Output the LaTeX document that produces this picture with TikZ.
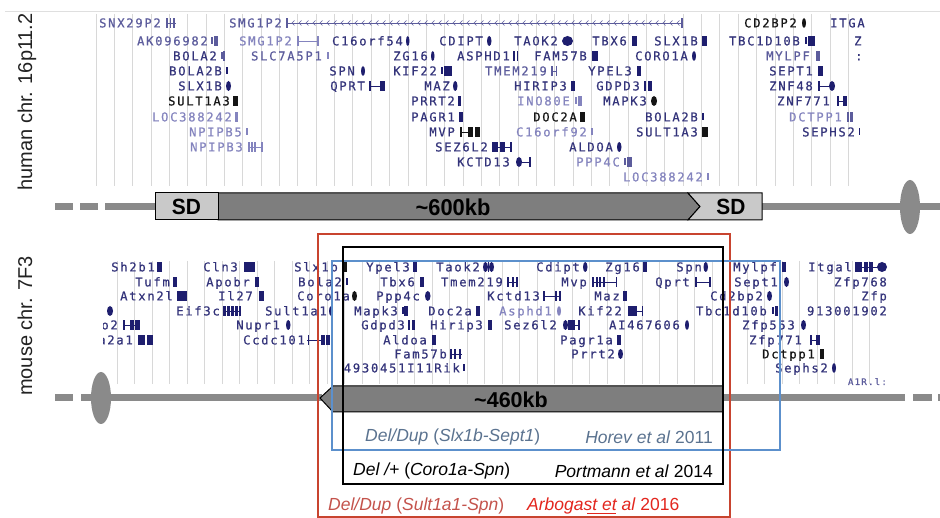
\documentclass[tikz,border=0pt]{standalone}
\usepackage{fontspec}
\setmainfont{Liberation Sans}
\newfontfamily\gf{DejaVu Sans Mono}[LetterSpace=14,FakeBold=0.6]
\definecolor{gdark}{HTML}{33337A}
\definecolor{gmid}{HTML}{5C5C9C}
\definecolor{glight}{HTML}{8484BE}
\definecolor{gblk}{HTML}{151515}
\definecolor{gexon}{HTML}{1E1E6E}
\definecolor{gridc}{HTML}{D8D8D8}
\definecolor{chrom}{HTML}{8A8A8A}
\definecolor{arrowfill}{HTML}{7E7E7E}
\definecolor{sdfill}{HTML}{C9C9C9}
\definecolor{redbox}{HTML}{C8442F}
\definecolor{bluebox}{HTML}{5C90CC}
\definecolor{bluetext}{HTML}{5B7390}
\definecolor{redtext}{HTML}{C4534C}
\definecolor{redref}{HTML}{E3261E}
\definecolor{labc}{HTML}{222222}
\newcounter{gnc}
\newcommand\gnT[4]{\stepcounter{gnc}\node[gtext,text=#4] (g\arabic{gnc}) at (#1,#2+4.4) {#3};}
\newcommand\gnB[4][gexon]{\fill[#1] (#2,#4-5) rectangle ++(#3,10);}
\newcommand\gnU[4][gexon]{\fill[#1] (#2,#4-3.5) rectangle ++(#3,7);}
\newcommand\gnL[4][gexon]{\draw[#1,line width=0.9pt] (#2,#4) -- (#3,#4);}
\newcommand\gnO[4][gexon]{\fill[#1] (#2+#3/2,#4) ellipse [x radius=#3*0.5pt, y radius=5pt];}
\begin{document}
\begin{tikzpicture}[x=1pt,y=-1pt,
  gtext/.style={font=\gf\fontsize{12.2}{12.2}\selectfont, inner sep=0pt, anchor=base east},
  biglab/.style={font=\fontsize{20}{20}\selectfont, text=labc, rotate=90, anchor=base, inner sep=0pt},
  reflab/.style={font=\fontsize{17.5}{17.5}\selectfont, inner sep=0pt},
  chromline/.style={chrom, line width=7pt},
  boxtxt/.style={font=\bfseries\fontsize{22}{22}\selectfont, xscale=0.95, inner sep=0pt}]
\useasboundingbox (0,0) rectangle (940,518);
\fill[white] (0,0) rectangle (940,518);
\draw[gray!25, line width=0.8pt] (5,11) -- (940,11);
% grids
\foreach \k in {0,...,41} \draw[gridc, line width=0.9pt] ({96+18.35*\k},14) -- ({96+18.35*\k},186);
\foreach \k in {0,...,43} \draw[gridc, line width=0.9pt] ({117+17.5*\k},261) -- ({117+17.5*\k},384);
% ---------------- human genes
% R0
\gnT{161}{23}{SNX29P2}{gmid} \gnB[gmid]{166}{1.6}{23}\gnB[gmid]{169.5}{1.6}{23}\gnB[gmid]{173}{1.6}{23}\gnL[gmid]{166}{176}{23}
\gnT{282}{23}{SMG1P2}{gmid} \gnB[gmid]{286}{2}{23}\gnL[gmid]{286}{683}{23}\gnB[gmid]{681}{1.6}{23}
\foreach \cx in {292,299,...,677} {\draw[gmid,line width=0.6pt] (\cx+2.5,20.5) -- (\cx,23) -- (\cx+2.5,25.5);}
\gnT{797}{23}{CD2BP2}{gblk} \gnO[gblk]{802}{4}{23}
\begin{scope}\clip (800,10) rectangle (866,35); \node[gtext,anchor=base west,text=gdark] (itgal) at (830,27.4) {ITGAL}; \end{scope}
% R1
\gnT{208}{41}{AK096982}{gmid} \gnU[gmid]{211}{1.5}{41}\gnB[gmid]{213.5}{4.5}{41}
\gnT{292}{41}{SMG1P2}{glight} \gnB[glight]{297}{1.5}{41}\gnL[glight]{297}{318}{41}\gnB[glight]{317}{1.5}{41}
\gnT{403}{41}{C16orf54}{gdark} \gnO{406}{3.5}{41}
\gnT{483}{41}{CDIPT}{gdark} \gnO{487}{4.5}{41}
\gnT{558}{41}{TAOK2}{gdark} \gnO{562}{11}{41}
\gnT{627}{41}{TBX6}{gdark} \gnB{632}{5}{41}
\gnT{698}{41}{SLX1B}{gdark} \gnB{702}{5}{41}
\gnT{800}{41}{TBC1D10B}{gdark} \gnU{805}{2}{41}\gnB{808}{7}{41}
\node[gtext,anchor=base west,text=gdark] (zcut) at (854,45.4) {Z};
% R2
\gnT{217}{56}{BOLA2}{gdark} \gnU[gmid]{221}{2}{56}\gnB[gmid]{223}{2}{56}
\gnT{322}{56}{SLC7A5P1}{gmid} \gnU[glight]{327}{2}{56}
\gnT{428}{56}{ZG16}{gdark} \gnO{431}{3.5}{56}
\gnT{510}{56}{ASPHD1}{gdark} \gnB{513}{1.8}{56}\gnB{516.5}{1.8}{56}
\gnT{587}{56}{FAM57B}{gdark} \gnB{592}{6}{56}
\gnT{688}{56}{CORO1A}{gdark} \gnO{692}{4}{56}
\gnT{810}{56}{MYLPF}{gmid} \gnB[gmid]{816}{4}{56}
\node[gtext,anchor=base west,text=gdark] (colcut) at (855,60.4) {:};
% R3
\gnT{222}{71}{BOLA2B}{gdark} \gnU{226}{2}{71}
\gnT{355}{71}{SPN}{gdark} \gnO{361}{4}{71}
\gnT{437}{71}{KIF22}{gdark} \gnU{441}{1.5}{71}\gnB{443.5}{8}{71}
\gnT{547}{71}{TMEM219}{gmid} \gnB[gmid]{551}{1.8}{71}\gnB[gmid]{555.5}{1.8}{71}\gnL[gmid]{551}{557}{71}
\gnT{632}{71}{YPEL3}{gdark} \gnB{637}{3.5}{71}
\gnT{813}{71}{SEPT1}{gdark} \gnB{818}{4.5}{71}
% R4
\gnT{222}{86}{SLX1B}{gdark} \gnO{226}{5}{86}
\gnT{365}{86}{QPRT}{gdark} \gnB{369}{1.5}{86}\gnL{369}{383}{86}\gnB{380}{5}{86}
\gnT{450}{86}{MAZ}{gdark} \gnO{453}{4.5}{86}
\gnT{567}{86}{HIRIP3}{gdark} \gnB{571}{4}{86}
\gnT{640}{86}{GDPD3}{gdark} \gnB{644}{2}{86}\gnB{647.5}{4.5}{86}
\gnT{813}{86}{ZNF48}{gdark} \gnB{818}{1.5}{86}\gnL{818}{830}{86}\gnO{829}{6}{86}
% R5
\gnT{230}{101}{SULT1A3}{gblk} \gnB[gblk]{233}{5}{101}
\gnT{455}{101}{PRRT2}{gdark} \gnB{457.5}{3.5}{101}
\gnT{570}{101}{INO80E}{glight} \gnU[glight]{575}{2}{101}\gnB[glight]{578}{4}{101}
\gnT{647}{101}{MAPK3}{gdark} \gnO[gblk]{651}{6}{101}
\gnT{830}{101}{ZNF771}{gdark} \gnB{837}{1.5}{101}\gnL{837}{846}{101}\gnB{843}{4}{101}
% R6
\gnT{232}{117}{LOC388242}{glight} \gnB[glight]{235}{3}{117}
\gnT{455}{117}{PAGR1}{gdark} \gnB{459}{3.5}{117}
\gnT{577}{117}{DOC2A}{gblk} \gnB[gblk]{580}{5}{117}
\gnT{698}{117}{BOLA2B}{gdark} \gnU{702}{2}{117}
\gnT{842}{117}{DCTPP1}{glight} \gnB[gmid]{847}{1.8}{117}\gnB[gmid]{850}{3}{117}
% R7
\gnT{242}{132}{NPIPB5}{glight} \gnU[glight]{246}{2}{132}
\gnT{455}{132}{MVP}{gdark} \gnB[gblk]{460}{1.5}{132}\gnL[gblk]{460}{470}{132}\gnB[gblk]{468}{5}{132}\gnB[gblk]{474.5}{5}{132}
\gnT{587}{132}{C16orf92}{glight} \gnU[glight]{591}{2}{132}
\gnT{698}{132}{SULT1A3}{gdark} \gnB[gblk]{702}{6}{132}
\gnT{855}{132}{SEPHS2}{gdark} \gnU{858.5}{1.5}{132}
% R8
\gnT{243}{147}{NPIPB3}{glight} \gnB[glight]{248}{1.5}{147}\gnB[glight]{251}{1.5}{147}\gnB[glight]{254}{1.5}{147}\gnL[glight]{248}{262}{147}\gnB[glight]{261}{1.5}{147}
\gnT{488}{147}{SEZ6L2}{gdark} \gnB{492}{6}{147}\gnB{500}{5}{147}\gnL{492}{512}{147}\gnB{510}{1.8}{147}
\gnT{613}{147}{ALDOA}{gdark} \gnO{617}{4.5}{147}
% R9
\gnT{510}{162}{KCTD13}{gdark} \gnO{516}{6}{162}\gnL{516}{531}{162}\gnB{529}{2}{162}
\gnT{620}{162}{PPP4C}{glight} \gnU[gmid]{624}{1.8}{162}\gnB[gmid]{627}{4.5}{162}
% R10
\gnT{703}{177}{LOC388242}{glight} \gnU[glight]{707}{2}{177}
% ---------------- mouse genes
% M0
\gnT{155}{267}{Sh2b1}{gdark} \gnB{157}{5}{267}
\gnT{238}{267}{Cln3}{gdark} \gnB{244}{11}{267}
\gnT{338}{267}{Slx1b}{gdark} \gnB[gblk]{342}{5}{267}
\gnT{410}{267}{Ypel3}{gdark} \gnB{413}{3.5}{267}
\gnT{480}{267}{Taok2}{gdark} \gnO{483}{5}{267}\gnB{487.5}{1.5}{267}\gnO{489}{5}{267}
\gnT{580}{267}{Cdipt}{gdark} \gnO{583}{4.5}{267}
\gnT{640}{267}{Zg16}{gdark} \gnB{643}{3.5}{267}
\gnT{702}{267}{Spn}{gdark} \gnO{703.5}{4.5}{267}
\gnT{777}{267}{Mylpf}{gdark} \gnB{782}{3.5}{267}
\gnT{852}{267}{Itgal}{gdark} \gnB{855}{7}{267}\gnB{863.5}{4}{267}\gnB{869}{4}{267}\gnL{855}{880}{267}\gnO{877}{10}{267}
% M1
\gnT{170}{282}{Tufm}{gdark} \gnB{173}{3.5}{282}
\gnT{250}{282}{Apobr}{gdark} \gnB{255}{3.5}{282}
\gnT{342}{282}{Bola2}{gdark} \gnU{346}{2}{282}
\gnT{415}{282}{Tbx6}{gdark} \gnB{420}{3.5}{282}
\gnT{503}{282}{Tmem219}{gdark} \gnB{507}{2}{282}\gnL{507}{517}{282}\gnB{512}{2}{282}\gnB{516}{1.5}{282}
\gnT{587}{282}{Mvp}{gdark} \gnB{592}{2}{282}\gnB{595.5}{2}{282}\gnB{599}{2}{282}\gnB{602.5}{2}{282}\gnL{592}{617}{282}\gnB{615.5}{1.5}{282}
\gnT{690}{282}{Qprt}{gdark} \gnB{695}{1.5}{282}\gnL{695}{710}{282}\gnB{709}{1.5}{282}
\gnT{778}{282}{Sept1}{gdark} \gnO{784}{5}{282}
\gnT{887}{282}{Zfp768}{gdark}
% M2
\gnT{173}{296}{Atxn2l}{gdark} \gnB{177}{10}{296}
\gnT{253}{296}{Il27}{gdark} \gnB{259}{5}{296}
\gnT{350}{296}{Coro1a}{gdark} \gnO[gblk]{352}{5}{296}
\gnT{420}{296}{Ppp4c}{gdark} \gnO{425}{5.5}{296}
\gnT{540}{296}{Kctd13}{gdark} \gnB{543}{2}{296}\gnL{543}{560}{296}\gnB{555}{2}{296}\gnB{558.5}{2}{296}
\gnT{620}{296}{Maz}{gdark} \gnB{623}{4}{296}
\gnT{763}{296}{Cd2bp2}{gdark} \gnO{767}{5}{296}
\gnT{887}{296}{Zfp}{gdark}
% M3
\gnO{107}{6}{311}
\gnT{220}{311}{Eif3c}{gdark} \gnB{223}{2.5}{311}\gnB{227}{2.5}{311}\gnB{231}{2.5}{311}\gnB{235}{2.5}{311}\gnL{223}{240}{311}\gnB{238.5}{2}{311}
\gnT{327}{311}{Sult1a1}{gdark} \gnO{329}{4}{311}
\gnT{398}{311}{Mapk3}{gdark} \gnU{402}{1.5}{311}\gnB{404}{3.5}{311}
\gnT{472}{311}{Doc2a}{gdark} \gnB{476}{4}{311}
\gnT{552}{311}{Asphd1}{glight} \gnO[glight]{557}{4}{311}
\gnT{622}{311}{Kif22}{gdark} \gnB{628}{9}{311}\gnL{628}{643}{311}\gnB{641.5}{1.5}{311}
\gnT{767}{311}{Tbc1d10b}{gdark} \gnU{772}{1.5}{311}\gnB{774.5}{3.5}{311}
\gnT{887}{311}{913001902}{gdark}
% M4
\begin{scope}\clip (103,300) rectangle (200,350);
\gnT{118}{325}{o2}{gdark}
\gnT{133}{340}{a2a1}{gdark}
\end{scope}
\gnB{123}{1.5}{325}\gnL{123}{140}{325}\gnB{130}{4}{325}\gnB{135}{5}{325}
\gnT{280}{325}{Nupr1}{gdark} \gnO{286}{4.5}{325}
\gnT{405}{325}{Gdpd3}{gdark} \gnB{408}{2}{325}\gnB{411.5}{3.5}{325}
\gnT{483}{325}{Hirip3}{gdark} \gnB{488}{4}{325}
\gnT{557}{325}{Sez6l2}{gdark} \gnO{563}{5}{325}\gnB{568}{7}{325}\gnL{563}{580}{325}\gnB{578}{2}{325}
\gnT{680}{325}{AI467606}{gdark} \gnO{685}{4}{325}
\gnT{795}{325}{Zfp553}{gdark} \gnO{801}{5}{325}
% M5
\gnB{138}{7}{340}\gnB{146.5}{6}{340}
\gnT{305}{340}{Ccdc101}{gdark} \gnB{307.5}{1.5}{340}\gnL{307}{322}{340}\gnB{321}{4}{340}\gnB{326}{4}{340}
\gnT{427}{340}{Aldoa}{gdark} \gnB{432}{3.5}{340}
\gnT{613}{340}{Pagr1a}{gdark} \gnB{617}{3.5}{340}
\gnT{802}{340}{Zfp771}{gdark} \gnB{810}{1.5}{340}\gnL{810}{820}{340}\gnB{816}{4}{340}
% M6
\gnT{447}{354}{Fam57b}{gdark} \gnB{450}{2}{354}\gnB{454}{2}{354}\gnL{450}{462}{354}\gnB{459}{2}{354}
\gnT{615}{354}{Prrt2}{gdark} \gnO{618}{5}{354}
\gnT{815}{354}{Dctpp1}{gblk} \gnB[gblk]{820}{4}{354}
% M7
\gnT{460}{368}{4930451I11Rik}{gdark} \gnU{463}{2}{368}
\gnT{828}{368}{Sephs2}{gdark} \gnO{832}{4}{368}
% M8
\node[gtext, font=\gf\fontsize{9}{9}\selectfont, text=gmid] (a1r) at (887,385) {A1R.l:};
% ---------------- human chromosome
\draw[chromline] (55,207) -- (73,207);
\draw[chromline] (80,207) -- (98,207);
\draw[chromline] (105,207) -- (940,207);
\fill[chrom] (910,207) ellipse [x radius=10pt, y radius=27pt];
\draw[black, line width=1pt, fill=arrowfill] (218,193) -- (688,193) -- (700,206.5) -- (688,220) -- (218,220) -- cycle;
\draw[black, line width=1pt, fill=sdfill] (155,193) rectangle (218,220);
\draw[black, line width=1pt, fill=sdfill] (688,193) -- (762,193) -- (762,220) -- (688,220) -- (700,206.5) -- cycle;
\node[boxtxt] (sd1) at (186.5,207) {SD};
\node[boxtxt] (sd2) at (731,207) {SD};
\node[boxtxt, font=\bfseries\fontsize{23}{23}\selectfont] (hkb) at (453,207) {\textasciitilde600kb};
% ---------------- mouse chromosome
\draw[chromline] (55,398) -- (73,398);
\draw[chromline] (81,398) -- (322,398);
\draw[chromline] (723,398) -- (905,398);
\draw[chromline] (913,398) -- (932,398);
\draw[chromline] (938,398) -- (940,398);
\fill[chrom] (101,398) ellipse [x radius=10pt, y radius=26pt];
\draw[black, line width=1pt, fill=arrowfill] (320,398) -- (333,386) -- (723,386) -- (723,412) -- (333,412) -- cycle;
\node[font=\bfseries\fontsize{21.5}{21.5}\selectfont, inner sep=0pt] (mkb) at (511,400) {\textasciitilde460kb};
% ---------------- boxes
\draw[redbox, line width=2.4pt] (318,234) rectangle (730,517);
\draw[bluebox, line width=2.4pt] (332,261) rectangle (780,450);
\draw[black, line width=2.8pt] (343,247) rectangle (723,484);
% ---------------- labels
\node[biglab] (humanlab) at (32,102) {human chr. 16p11.2};
\node[biglab] (mouselab) at (32,326) {mouse chr. 7F3};
\node[reflab, text=bluetext, anchor=west] (l1a) at (365,437) {\textit{Del/Dup} (\textit{Slx1b-Sept1})};
\node[reflab, text=bluetext, anchor=east] (l1b) at (713,437) {\textit{Horev et al} 2011};
\node[reflab, text=black, anchor=west] (l2a) at (353,471) {\textit{Del /+} (\textit{Coro1a-Spn})};
\node[reflab, text=black, anchor=east] (l2b) at (713,471) {\textit{Portmann et al} 2014};
\node[reflab, text=redtext, anchor=west] (l3a) at (328,506) {\textit{Del/Dup} (\textit{Sult1a1-Spn})};
\node[reflab, text=redref, anchor=west] (l3b) at (527,506) {\textit{Arbogast et al} 2016};
\draw[redref, line width=0.6pt] (587,513) -- (616,513);
\end{tikzpicture}
\end{document}
